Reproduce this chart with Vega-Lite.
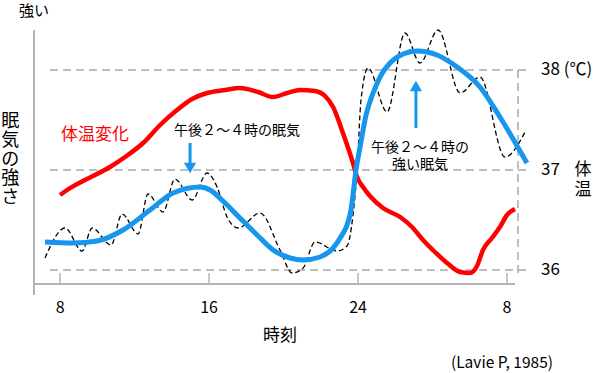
{
  "$schema": "https://vega.github.io/schema/vega-lite/v6.json",
  "width": 481,
  "height": 254,
  "autosize": "none",
  "padding": {"left": 34, "top": 30, "right": 82, "bottom": 89},
  "background": "white",
  "config": {"view": {"stroke": null}, "font": "Noto Sans CJK JP", "text": {"font": "Noto Sans CJK JP"}},
  "datasets": {
    "red": [
      {"hour": 8.00, "temp": 36.75}, {"hour": 8.38, "temp": 36.80}, {"hour": 9.34, "temp": 36.90},
      {"hour": 10.68, "temp": 37.03}, {"hour": 11.49, "temp": 37.13}, {"hour": 12.46, "temp": 37.27},
      {"hour": 13.37, "temp": 37.45}, {"hour": 14.28, "temp": 37.60}, {"hour": 15.09, "temp": 37.71},
      {"hour": 15.89, "temp": 37.77}, {"hour": 16.86, "temp": 37.80}, {"hour": 17.66, "temp": 37.82},
      {"hour": 18.63, "temp": 37.78}, {"hour": 19.44, "temp": 37.73}, {"hour": 20.19, "temp": 37.77},
      {"hour": 20.89, "temp": 37.80}, {"hour": 21.69, "temp": 37.79}, {"hour": 22.23, "temp": 37.74},
      {"hour": 22.66, "temp": 37.63}, {"hour": 23.19, "temp": 37.37}, {"hour": 23.73, "temp": 37.07},
      {"hour": 23.95, "temp": 36.93}, {"hour": 24.27, "temp": 36.83}, {"hour": 24.64, "temp": 36.74},
      {"hour": 25.34, "temp": 36.62}, {"hour": 26.26, "temp": 36.53}, {"hour": 26.90, "temp": 36.43},
      {"hour": 27.49, "temp": 36.30}, {"hour": 28.13, "temp": 36.18}, {"hour": 28.78, "temp": 36.07},
      {"hour": 29.48, "temp": 35.98}, {"hour": 30.01, "temp": 35.97}, {"hour": 30.39, "temp": 36.04},
      {"hour": 30.71, "temp": 36.20}, {"hour": 31.19, "temp": 36.32}, {"hour": 31.62, "temp": 36.43},
      {"hour": 32.00, "temp": 36.55}, {"hour": 32.43, "temp": 36.61}
    ],
    "raw": [
      {"hour": 7.19, "v": 36.12}, {"hour": 8.27, "v": 36.42}, {"hour": 9.18, "v": 36.19},
      {"hour": 9.72, "v": 36.42}, {"hour": 10.74, "v": 36.25}, {"hour": 11.33, "v": 36.56},
      {"hour": 12.19, "v": 36.36}, {"hour": 12.72, "v": 36.76}, {"hour": 13.53, "v": 36.58},
      {"hour": 14.17, "v": 36.91}, {"hour": 15.09, "v": 36.70}, {"hour": 15.89, "v": 36.97},
      {"hour": 16.43, "v": 36.83}, {"hour": 16.97, "v": 36.53}, {"hour": 17.56, "v": 36.42},
      {"hour": 18.74, "v": 36.57}, {"hour": 19.81, "v": 36.20}, {"hour": 20.46, "v": 35.97},
      {"hour": 21.05, "v": 36.02}, {"hour": 21.69, "v": 36.28}, {"hour": 22.87, "v": 36.19},
      {"hour": 23.41, "v": 36.24}, {"hour": 23.73, "v": 36.55}, {"hour": 23.95, "v": 37.00},
      {"hour": 24.16, "v": 37.70}, {"hour": 24.54, "v": 38.02}, {"hour": 25.56, "v": 37.58},
      {"hour": 26.52, "v": 38.37}, {"hour": 27.33, "v": 38.07}, {"hour": 28.30, "v": 38.40},
      {"hour": 29.48, "v": 37.77}, {"hour": 30.55, "v": 37.93}, {"hour": 31.89, "v": 37.13},
      {"hour": 32.97, "v": 37.38}
    ],
    "smooth": [
      {"hour": 7.19, "v": 36.28}, {"hour": 8.70, "v": 36.27}, {"hour": 9.99, "v": 36.29},
      {"hour": 11.38, "v": 36.40}, {"hour": 12.83, "v": 36.60}, {"hour": 14.07, "v": 36.77},
      {"hour": 15.52, "v": 36.83}, {"hour": 16.05, "v": 36.80}, {"hour": 16.75, "v": 36.69},
      {"hour": 17.66, "v": 36.52}, {"hour": 18.58, "v": 36.35}, {"hour": 19.44, "v": 36.20},
      {"hour": 20.35, "v": 36.12}, {"hour": 21.05, "v": 36.10}, {"hour": 21.96, "v": 36.13},
      {"hour": 22.66, "v": 36.22}, {"hour": 23.14, "v": 36.35}, {"hour": 23.41, "v": 36.45},
      {"hour": 23.62, "v": 36.60}, {"hour": 23.73, "v": 36.75}, {"hour": 23.89, "v": 37.00},
      {"hour": 24.11, "v": 37.23}, {"hour": 24.43, "v": 37.55}, {"hour": 24.81, "v": 37.77},
      {"hour": 25.24, "v": 37.95}, {"hour": 25.72, "v": 38.07}, {"hour": 26.42, "v": 38.16},
      {"hour": 27.17, "v": 38.19}, {"hour": 28.24, "v": 38.15}, {"hour": 29.32, "v": 38.03},
      {"hour": 30.55, "v": 37.83}, {"hour": 31.62, "v": 37.53}, {"hour": 33.07, "v": 37.07}
    ],
    "grid": [{"temp": 36}, {"temp": 37}, {"temp": 38}],
    "ticks": [{"hour": 8, "label": "8"}, {"hour": 16, "label": "16"}, {"hour": 24, "label": "24"}, {"hour": 32, "label": "8"}]
  },
  "layer": [
    {
      "data": {"name": "ticks"},
      "mark": {"type": "rule", "color": "#b4b4b4", "strokeWidth": 1.5},
      "encoding": {
        "x": {"field": "hour", "type": "quantitative", "scale": {"domain": [6.6, 32.43], "nice": false, "zero": false}, "axis": null},
        "y": {"datum": 35.86, "type": "quantitative", "scale": {"domain": [35.86, 38.40], "nice": false, "zero": false}, "axis": null},
        "y2": {"datum": 35.97}
      }
    },
    {
      "data": {"name": "ticks"},
      "mark": {"type": "text", "fontSize": 16, "align": "center", "baseline": "middle", "color": "#000000"},
      "encoding": {
        "x": {"field": "hour", "type": "quantitative", "axis": null},
        "y": {"datum": 35.62, "type": "quantitative", "axis": null},
        "text": {"field": "label"}
      }
    },
    {
      "data": {"values": [{}]},
      "mark": {"type": "rule", "color": "#b4b4b4", "strokeWidth": 2},
      "encoding": {
        "x": {"datum": 6.6, "type": "quantitative", "axis": null},
        "x2": {"datum": 32.43},
        "y": {"datum": 35.86, "type": "quantitative", "axis": null}
      }
    },
    {
      "data": {"name": "grid"},
      "mark": {"type": "rule", "color": "#aaaaaa", "strokeWidth": 1.5, "strokeDash": [8, 5]},
      "encoding": {
        "y": {"field": "temp", "type": "quantitative", "axis": null},
        "x": {"datum": 7.46, "type": "quantitative", "axis": null},
        "x2": {"datum": 33.07}
      }
    },
    {
      "data": {"values": [{}]},
      "mark": {"type": "rule", "color": "#aaaaaa", "strokeWidth": 1.5, "strokeDash": [8, 5]},
      "encoding": {
        "x": {"datum": 32.59, "type": "quantitative", "axis": null},
        "y": {"datum": 38, "type": "quantitative", "axis": null},
        "y2": {"datum": 35.92}
      }
    },
    {
      "data": {"values": [{}]},
      "mark": {"type": "rule", "color": "#b4b4b4", "strokeWidth": 2},
      "encoding": {
        "x": {"datum": 6.6, "type": "quantitative", "axis": null},
        "y": {"datum": 38.40, "type": "quantitative", "axis": null},
        "y2": {"datum": 35.75}
      }
    },
    {
      "data": {"name": "red"},
      "mark": {"type": "line", "color": "#ff0000", "strokeWidth": 4.5, "interpolate": "monotone"},
      "encoding": {
        "x": {"field": "hour", "type": "quantitative", "axis": null},
        "y": {"field": "temp", "type": "quantitative", "axis": null}
      }
    },
    {
      "data": {"name": "raw"},
      "mark": {"type": "line", "color": "#000000", "strokeWidth": 1.3, "strokeDash": [5, 3], "interpolate": "monotone"},
      "encoding": {
        "x": {"field": "hour", "type": "quantitative", "axis": null},
        "y": {"field": "v", "type": "quantitative", "axis": null}
      }
    },
    {
      "data": {"name": "smooth"},
      "mark": {"type": "line", "color": "#1696ee", "strokeWidth": 5, "interpolate": "monotone"},
      "encoding": {
        "x": {"field": "hour", "type": "quantitative", "axis": null},
        "y": {"field": "v", "type": "quantitative", "axis": null}
      }
    },
    {
      "data": {"values": [{}]},
      "mark": {"type": "rule", "color": "#1696ee", "strokeWidth": 3},
      "encoding": {
        "x": {"datum": 14.98, "type": "quantitative", "axis": null},
        "y": {"datum": 37.27, "type": "quantitative", "axis": null},
        "y2": {"datum": 37.06}
      }
    },
    {
      "data": {"values": [{}]},
      "mark": {"type": "point", "shape": "triangle-down", "filled": true, "color": "#1696ee", "size": 150, "opacity": 1},
      "encoding": {
        "x": {"datum": 14.98, "type": "quantitative", "axis": null},
        "y": {"datum": 37.02, "type": "quantitative", "axis": null}
      }
    },
    {
      "data": {"values": [{}]},
      "mark": {"type": "rule", "color": "#1696ee", "strokeWidth": 3},
      "encoding": {
        "x": {"datum": 27.11, "type": "quantitative", "axis": null},
        "y": {"datum": 37.80, "type": "quantitative", "axis": null},
        "y2": {"datum": 37.42}
      }
    },
    {
      "data": {"values": [{}]},
      "mark": {"type": "point", "shape": "triangle-up", "filled": true, "color": "#1696ee", "size": 150, "opacity": 1},
      "encoding": {
        "x": {"datum": 27.11, "type": "quantitative", "axis": null},
        "y": {"datum": 37.84, "type": "quantitative", "axis": null}
      }
    },
    {
      "data": {"values": [{}]},
      "mark": {"type": "text", "text": "強い", "fontSize": 15, "align": "center", "baseline": "middle", "color": "#000000"},
      "encoding": {"x": {"datum": 6.60, "type": "quantitative", "axis": null}, "y": {"datum": 38.59, "type": "quantitative", "axis": null}}
    },
    {
      "data": {"values": [{}]},
      "mark": {"type": "text", "text": ["眠", "気", "の", "強", "さ"], "lineHeight": 19, "fontSize": 18, "align": "center", "baseline": "middle", "color": "#000000"},
      "encoding": {"x": {"datum": 5.32, "type": "quantitative", "axis": null}, "y": {"datum": 37.48, "type": "quantitative", "axis": null}}
    },
    {
      "data": {"values": [{}]},
      "mark": {"type": "text", "text": "体温変化", "fontSize": 17, "align": "center", "baseline": "middle", "color": "#ff0000"},
      "encoding": {"x": {"datum": 9.88, "type": "quantitative", "axis": null}, "y": {"datum": 37.35, "type": "quantitative", "axis": null}}
    },
    {
      "data": {"values": [{}]},
      "mark": {"type": "text", "text": "午後２～４時の眠気", "fontSize": 14, "align": "center", "baseline": "middle", "color": "#000000"},
      "encoding": {"x": {"datum": 17.50, "type": "quantitative", "axis": null}, "y": {"datum": 37.39, "type": "quantitative", "axis": null}}
    },
    {
      "data": {"values": [{}]},
      "mark": {"type": "text", "text": ["午後２～４時の", "強い眠気"], "lineHeight": 17, "fontSize": 14, "align": "center", "baseline": "middle", "color": "#000000"},
      "encoding": {"x": {"datum": 27.33, "type": "quantitative", "axis": null}, "y": {"datum": 37.225, "type": "quantitative", "axis": null}}
    },
    {
      "data": {"values": [{}]},
      "mark": {"type": "text", "text": "(Lavie P, 1985)", "fontSize": 15.5, "align": "center", "baseline": "middle", "color": "#000000"},
      "encoding": {"x": {"datum": 31.73, "type": "quantitative", "axis": null}, "y": {"datum": 35.07, "type": "quantitative", "axis": null}}
    },
    {
      "data": {"values": [{}]},
      "mark": {"type": "text", "text": "時刻", "fontSize": 17, "align": "center", "baseline": "middle", "color": "#000000"},
      "encoding": {"x": {"datum": 19.81, "type": "quantitative", "axis": null}, "y": {"datum": 35.34, "type": "quantitative", "axis": null}}
    },
    {
      "data": {"values": [{}]},
      "mark": {"type": "text", "text": "38 (℃)", "fontSize": 17, "align": "left", "baseline": "middle", "color": "#000000"},
      "encoding": {"x": {"datum": 33.83, "type": "quantitative", "axis": null}, "y": {"datum": 38, "type": "quantitative", "axis": null}}
    },
    {
      "data": {"values": [{}]},
      "mark": {"type": "text", "text": "37", "fontSize": 17, "align": "left", "baseline": "middle", "color": "#000000"},
      "encoding": {"x": {"datum": 33.83, "type": "quantitative", "axis": null}, "y": {"datum": 37, "type": "quantitative", "axis": null}}
    },
    {
      "data": {"values": [{}]},
      "mark": {"type": "text", "text": "36", "fontSize": 17, "align": "left", "baseline": "middle", "color": "#000000"},
      "encoding": {"x": {"datum": 33.83, "type": "quantitative", "axis": null}, "y": {"datum": 36, "type": "quantitative", "axis": null}}
    },
    {
      "data": {"values": [{}]},
      "mark": {"type": "text", "text": ["体", "温"], "lineHeight": 20, "fontSize": 17, "align": "center", "baseline": "middle", "color": "#000000"},
      "encoding": {"x": {"datum": 36.08, "type": "quantitative", "axis": null}, "y": {"datum": 37.0, "type": "quantitative", "axis": null}}
    }
  ]
}
